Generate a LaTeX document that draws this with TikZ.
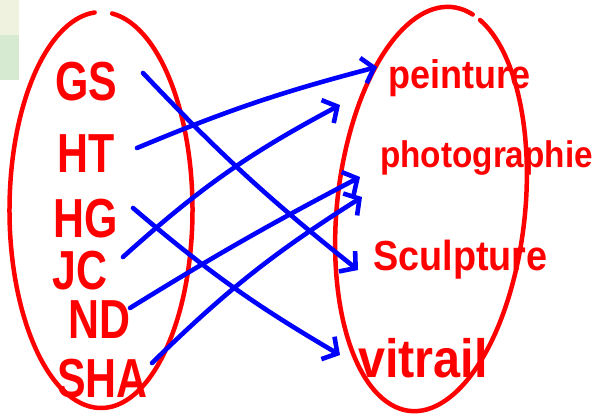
\documentclass[tikz,border=0pt]{standalone}
\usepackage{fontspec}
\setmainfont{Liberation Sans}
\newfontfamily\handnarrow[FakeStretch=0.78]{Liberation Sans Bold}
\newfontfamily\handword[FakeStretch=0.9]{Liberation Sans Bold}
\usetikzlibrary{arrows.meta}
\definecolor{pen}{RGB}{255,0,0}
\definecolor{ink}{RGB}{0,0,255}
\definecolor{paleA}{RGB}{238,242,222}
\definecolor{paleB}{RGB}{213,234,208}
\begin{document}
\begin{tikzpicture}[x=1pt,y=-1pt,
  leftlbl/.style={text=pen, font=\handnarrow\fontsize{55}{55}\selectfont, inner sep=0pt, anchor=base west, text height=0.72em, text depth=0pt},
  rightlbl/.style={text=pen, inner sep=0pt, anchor=base west},
  ring/.style={draw=pen, line width=4.5pt, line cap=round},
  link/.style={draw=ink, line width=4.6pt, line cap=round, line join=round, -{Straight Barb[length=11pt,width=26pt]}}
]
\useasboundingbox (0,0) rectangle (597,415);
% pale patch at top left
\fill[paleA] (0,0) rectangle (19,35);
\fill[paleB] (0,35) rectangle (19,80);
% ellipses
\draw[ring] ([shift={(277:91.5 and 198)}]101,210) arc[start angle=277, end angle=626, x radius=91.5, y radius=198];
\draw[ring, rotate around={-6:(431,209)}] ([shift={(288:94 and 203)}]431,209) arc[start angle=288, end angle=643, x radius=94, y radius=203];
% left labels
\node[leftlbl] (gs) at (55,100) {GS};
\node[leftlbl] (ht) at (57,172) {HT};
\node[leftlbl] (hg) at (53,237) {HG};
\node[leftlbl] (jc) at (52,289) {JC};
\node[leftlbl] (nd) at (68,338) {ND};
\node[leftlbl] (sha) at (57,397) {SHA};
% right labels
\node[rightlbl, font=\handword\fontsize{40}{40}\selectfont] (peinture) at (388,88) {peinture};
\node[rightlbl, font=\handword\fontsize{37}{37}\selectfont] (photo) at (380,167) {photographie};
\node[rightlbl, font=\handword\fontsize{42}{42}\selectfont] (sculpture) at (373,270) {Sculpture};
\node[rightlbl, font=\handword\fontsize{54}{54}\selectfont] (vitrail) at (358,377) {vitrail};
% connectors
\draw[link] ([shift={(88,-27)}]gs.base west) to[bend right=4] ([shift={(-15,0)}]sculpture.base west);
\draw[link] ([shift={(80,-24)}]ht.base west) to[bend left=4] ([shift={(-11,-21)}]peinture.base west);
\draw[link] ([shift={(80,-29)}]hg.base west) to[bend right=5] ([shift={(-18,-22)}]vitrail.base west);
\draw[link] ([shift={(71,-32)}]jc.base west) to[bend left=7] ([shift={(-48,17)}]peinture.base west);
\draw[link] ([shift={(62,-30)}]nd.base west) to[bend left=2] ([shift={(-20,10)}]photo.base west);
\draw[link] ([shift={(95,-34)}]sha.base west) to[bend left=6] ([shift={(-18,30)}]photo.base west);
\end{tikzpicture}
\end{document}
